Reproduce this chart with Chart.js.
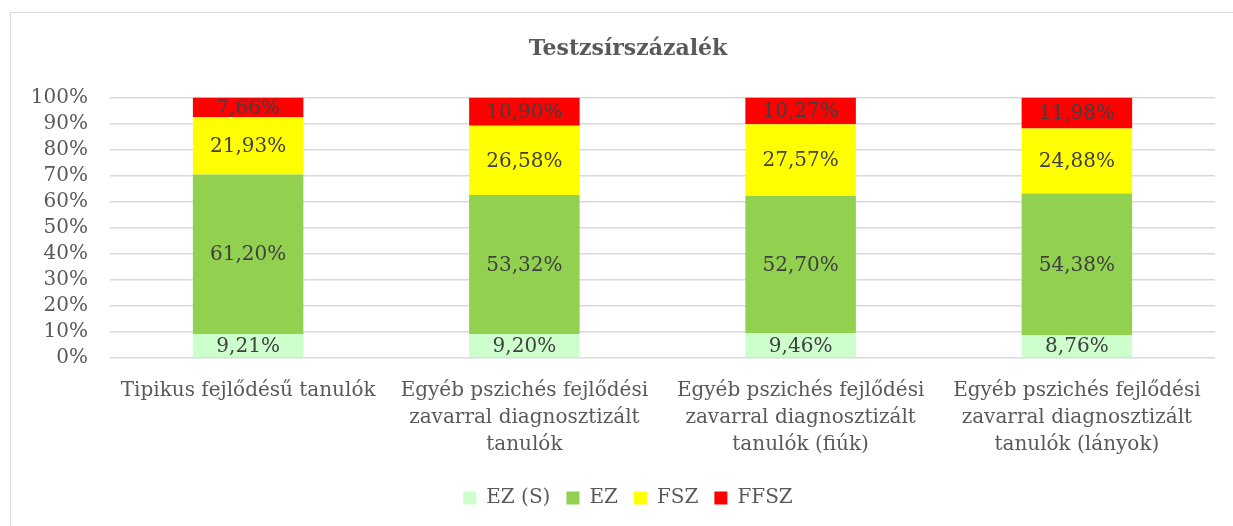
<!DOCTYPE html>
<html>
<head>
<meta charset="utf-8">
<script src="https://cdn.jsdelivr.net/npm/chart.js@4/dist/chart.umd.min.js"></script>
<style>
	html, body { margin: 0; padding: 0; background: #ffffff; overflow: hidden; width: 1233px; height: 526px; }
	#frame { position: absolute; left: 10px; top: 12px; width: 1300px; height: 600px; border: 1px solid #d9d9d9; }
	#chartBox { position: absolute; left: 0; top: 0; }
</style>
</head>
<body>
<div id="frame"></div>
<div id="chartBox"><canvas id="fatChart" width="1233" height="526"></canvas></div>
<script>
const categories = [
	['Tipikus fejlődésű tanulók'],
	['Egyéb pszichés fejlődési', 'zavarral diagnosztizált', 'tanulók'],
	['Egyéb pszichés fejlődési', 'zavarral diagnosztizált', 'tanulók (fiúk)'],
	['Egyéb pszichés fejlődési', 'zavarral diagnosztizált', 'tanulók (lányok)']
];
const seriesNames = ['EZ (S)', 'EZ', 'FSZ', 'FFSZ'];
const ezS = [9.21, 9.20, 9.46, 8.76];
const ez = [61.20, 53.32, 52.70, 54.38];
const fsz = [21.93, 26.58, 27.57, 24.88];
const ffsz = [7.66, 10.90, 10.27, 11.98];
const seriesColors = ['#ccffcc', '#92d050', '#ffff00', '#ff0000'];

const serif = "'DejaVu Serif', serif";

function formatPercent(v) {
	return v.toFixed(2).replace('.', ',') + '%';
}

// feliratok a sávok közepére
const segmentLabels = {
	id: 'segmentLabels',
	afterDatasetsDraw(chart) {
		const ctx = chart.ctx;
		ctx.save();
		ctx.font = '20px ' + serif;
		ctx.fillStyle = '#404040';
		ctx.textAlign = 'center';
		ctx.textBaseline = 'middle';
		chart.data.datasets.forEach((ds, i) => {
			const meta = chart.getDatasetMeta(i);
			meta.data.forEach((bar, j) => {
				const y = (bar.y + bar.base) / 2;
				ctx.fillText(formatPercent(ds.data[j]), bar.x, y + 1);
			});
		});
		ctx.restore();
	}
};

const allSeries = [ezS, ez, fsz, ffsz];

new Chart(document.getElementById('fatChart').getContext('2d'), {
	type: 'bar',
	data: {
		labels: categories,
		datasets: allSeries.map((values, i) => ({
			label: seriesNames[i],
			data: values,
			backgroundColor: seriesColors[i],
			borderWidth: 0,
			categoryPercentage: 1,
			barPercentage: 0.4
		}))
	},
	options: {
		responsive: false,
		animation: false,
		devicePixelRatio: 1,
		layout: {
			// bal oldali margó, hogy a cím és a jelmagyarázat a keret közepére kerüljön
			padding: { left: 41, right: 18, top: 0, bottom: 8 }
		},
		scales: {
			x: {
				stacked: true,
				grid: { display: false },
				border: { display: false },
				afterFit: function(scale) { scale.height += 3; },
				ticks: {
					color: '#595959',
					font: { family: serif, size: 20, lineHeight: 1.35 },
					padding: 11,
					maxRotation: 0,
					autoSkip: false
				}
			},
			y: {
				stacked: true,
				min: 0,
				max: 100,
				grid: { color: '#d9d9d9', lineWidth: 1.5, drawTicks: false },
				border: { display: false },
				afterFit: function(scale) {
					scale.width = 69;
					// a "100%" felirat kilóghat a tengely dobozából, ne vágja le
					scale._computeLabelArea = () => undefined;
				},
				ticks: {
					stepSize: 10,
					autoSkip: false,
					color: '#595959',
					font: { family: serif, size: 20 },
					padding: 22,
					callback: v => v + '%'
				}
			}
		},
		plugins: {
			title: {
				display: true,
				text: 'Testzsírszázalék',
				color: '#595959',
				font: { family: serif, size: 22, weight: 'bold' },
				padding: { top: 36, bottom: 35 }
			},
			legend: {
				position: 'bottom',
				labels: {
					color: '#595959',
					font: { family: serif, size: 20 },
					boxWidth: 13,
					boxHeight: 13,
					padding: 16
				}
			},
			tooltip: { enabled: false }
		}
	},
	plugins: [segmentLabels]
});
</script>
</body>
</html>
